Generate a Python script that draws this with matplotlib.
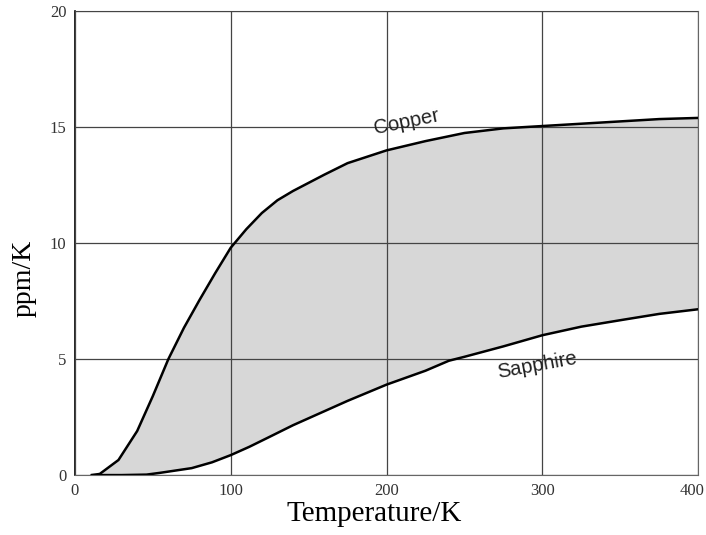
import numpy as np
import matplotlib
matplotlib.use("Agg")
import matplotlib.pyplot as plt
import matplotlib.transforms as mtransforms

# thermal expansion coefficient (ppm/K)
copper_T = [11, 16, 28, 40, 50, 60, 70, 80, 90, 100, 110, 120, 130, 140, 150,
            160, 175, 200, 225, 250, 275, 300, 325, 350, 375, 400]
copper_a = [0, 0.05, 0.65, 1.9, 3.4, 5.0, 6.35, 7.55, 8.7, 9.8, 10.6, 11.3,
            11.85, 12.25, 12.6, 12.95, 13.45, 14.0, 14.4, 14.75, 14.95, 15.05,
            15.15, 15.25, 15.35, 15.4]

sapphire_T = [11, 30, 46, 55, 65, 75, 88, 100, 112, 125, 140, 150, 160, 175,
              200, 225, 240, 250, 275, 300, 325, 352, 375, 400]
sapphire_a = [0, 0, 0.02, 0.1, 0.2, 0.3, 0.55, 0.86, 1.22, 1.65, 2.15, 2.45,
              2.75, 3.2, 3.9, 4.5, 4.93, 5.1, 5.55, 6.03, 6.4, 6.7, 6.95, 7.15]

x_ticks = [0, 100, 200, 300, 400]
y_ticks = [0, 5, 10, 15, 20]

fig = plt.figure(figsize=(7.06, 5.35), dpi=100)
ax = fig.add_axes([0.106, 0.112, 0.883, 0.867])

# shaded band between the two curves
poly_x = np.concatenate([copper_T, sapphire_T[::-1]])
poly_y = np.concatenate([copper_a, sapphire_a[::-1]])
ax.fill(poly_x, poly_y, facecolor="#d7d7d7", edgecolor="none", zorder=1)

ax.plot(copper_T, copper_a, color="black", lw=1.8, zorder=3)
ax.plot(sapphire_T, sapphire_a, color="black", lw=1.8, zorder=3)

ax.set_xlim(0, 400)
ax.set_ylim(0, 20)
ax.set_xticks(x_ticks)
ax.set_yticks(y_ticks)
ax.grid(True, color="#444444", lw=0.9, zorder=2)
ax.set_axisbelow(False)
ax.tick_params(length=0, labelsize=12, pad=6)
for lab in ax.get_xticklabels() + ax.get_yticklabels():
    lab.set_family("Liberation Serif")
    lab.set_color("#333333")

# keep the last x label inside the figure edge
last = ax.get_xticklabels()[-1]
last.set_transform(last.get_transform() +
                   mtransforms.ScaledTranslation(-6 / 100, 0, fig.dpi_scale_trans))

for side in ["top", "right", "bottom"]:
    ax.spines[side].set_color("#666666")
ax.spines["left"].set_color("black")
ax.spines["left"].set_linewidth(1.2)

ax.set_xlabel("Temperature/K", family="Liberation Serif", fontsize=21)
ax.xaxis.set_label_coords(0.48, -0.055)
ax.xaxis.label.set_va("top")
ax.set_ylabel("ppm/K", family="Liberation Serif", fontsize=20)
ax.yaxis.set_label_coords(-0.062, 0.425)

ax.text(212.6, 15.23, "Copper", family="Liberation Sans", fontsize=14.5,
        rotation=11.6, ha="center", va="center", color="#222222", zorder=4)
ax.text(296.4, 4.74, "Sapphire", family="Liberation Sans", fontsize=14.5,
        rotation=10.4, ha="center", va="center", color="#222222", zorder=4)

fig.savefig("out.png", dpi=100)
